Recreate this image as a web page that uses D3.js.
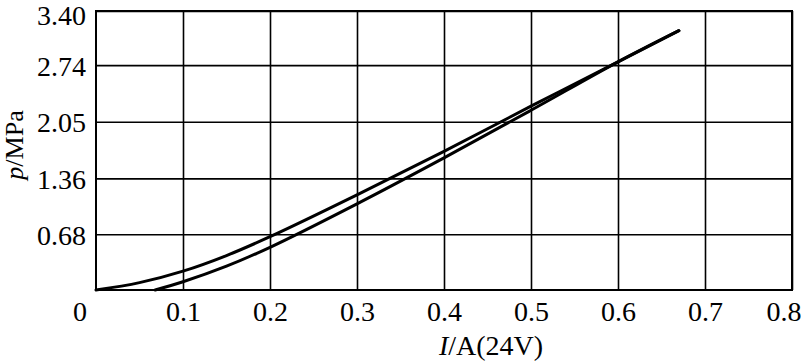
<!DOCTYPE html>
<html>
<head>
<meta charset="utf-8">
<script src="https://cdn.jsdelivr.net/npm/d3@7"></script>
<style>
  html, body { margin: 0; padding: 0; background: #fff; }
  svg { display: block; }
  text { font-family: "Liberation Serif", "DejaVu Serif", serif; fill: #000; }
</style>
</head>
<body>
<svg id="chart" width="801" height="361"></svg>
<script>
// ---- data ----
const xTicks = [0.1, 0.2, 0.3, 0.4, 0.5, 0.6, 0.7, 0.8];
const xTickLabels = ["0.1", "0.2", "0.3", "0.4", "0.5", "0.6", "0.7", "0.8"];
const yTicks = [0.68, 1.36, 2.05, 2.74, 3.40];
const yTickLabels = ["0.68", "1.36", "2.05", "2.74", "3.40"];
const originLabel = "0";

// upper branch (I in A, p in MPa)
const upperI = [0, 0.05, 0.10, 0.15, 0.20, 0.30, 0.40, 0.50, 0.60, 0.67];
const upperP = [0, 0.09, 0.23, 0.42, 0.65, 1.16, 1.69, 2.24, 2.78, 3.16];
// lower branch
const lowerI = [0.068, 0.10, 0.15, 0.20, 0.30, 0.40, 0.50, 0.60, 0.67];
const lowerP = [0, 0.10, 0.29, 0.52, 1.05, 1.61, 2.19, 2.78, 3.16];

const xTitle = "A(24V)";
const xTitleVar = "I";
const yTitle = "/MPa";
const yTitleVar = "p";

// ---- layout ----
const svg = d3.select("#chart");
const margin = { left: 96, top: 11, right: 9, bottom: 71 };
const W = 801, H = 361;
const w = W - margin.left - margin.right;
const h = H - margin.top - margin.bottom;

const x = d3.scaleLinear().domain([0, 0.8]).range([0, w]);
const y = d3.scaleLinear().domain([0, 3.40]).range([h, 0]);

const g = svg.append("g").attr("transform", `translate(${margin.left},${margin.top})`);

// grid + labels via axes
const xAxis = d3.axisBottom(x)
  .tickValues(xTicks)
  .tickSize(-h)
  .tickPadding(11)
  .tickFormat((d, i) => xTickLabels[i]);
const gx = g.append("g").attr("transform", `translate(0,${h})`).call(xAxis);
gx.select(".domain").remove();
gx.selectAll(".tick line").attr("stroke", "#000").attr("stroke-width", 1.6);
gx.selectAll(".tick text")
  .attr("font-size", 28)
  .attr("font-family", "Liberation Serif")
  .attr("fill", "#000");
gx.selectAll(".tick text").filter((d) => d === 0.8)
  .attr("text-anchor", "end").attr("dx", 9);

const yAxis = d3.axisLeft(y)
  .tickValues(yTicks)
  .tickSize(-w)
  .tickPadding(10)
  .tickFormat((d, i) => yTickLabels[i]);
const gy = g.append("g").call(yAxis);
gy.select(".domain").remove();
gy.selectAll(".tick line").attr("stroke", "#000").attr("stroke-width", 1.6);
gy.selectAll(".tick text")
  .attr("font-size", 28)
  .attr("font-family", "Liberation Serif")
  .attr("fill", "#000")
  .attr("dy", "0.36em");
gy.selectAll(".tick text").filter((d) => d === 3.40).attr("dy", "0.49em");

// frame
g.append("rect")
  .attr("x", 0).attr("y", 0).attr("width", w).attr("height", h)
  .attr("fill", "none").attr("stroke", "#000").attr("stroke-width", 2);

// origin label
g.append("text")
  .attr("x", x(0) - 16).attr("y", y(0) + 11)
  .attr("dy", "0.71em")
  .attr("text-anchor", "middle")
  .attr("font-size", 28)
  .text(originLabel);

// curves
const line = d3.line()
  .x(d => x(d[0]))
  .y(d => y(d[1]))
  .curve(d3.curveCatmullRom.alpha(0.5));

const upper = upperI.map((v, i) => [v, upperP[i]]);
const lower = lowerI.map((v, i) => [v, lowerP[i]]);

[upper, lower].forEach(data => {
  g.append("path")
    .datum(data)
    .attr("d", line)
    .attr("fill", "none")
    .attr("stroke", "#000")
    .attr("stroke-width", 3)
    .attr("stroke-linecap", "round")
    .attr("stroke-linejoin", "round");
});

// axis titles
const xt = svg.append("text")
  .attr("x", 491).attr("y", 355)
  .attr("text-anchor", "middle")
  .attr("font-size", 28);
xt.append("tspan").attr("font-style", "italic").text(xTitleVar);
xt.append("tspan").text("/" + xTitle);

const yt = svg.append("text")
  .attr("transform", `translate(23,145) rotate(-90)`)
  .attr("text-anchor", "middle")
  .attr("font-size", 26);
yt.append("tspan").attr("font-style", "italic").text(yTitleVar);
yt.append("tspan").text(yTitle);
</script>
</body>
</html>
